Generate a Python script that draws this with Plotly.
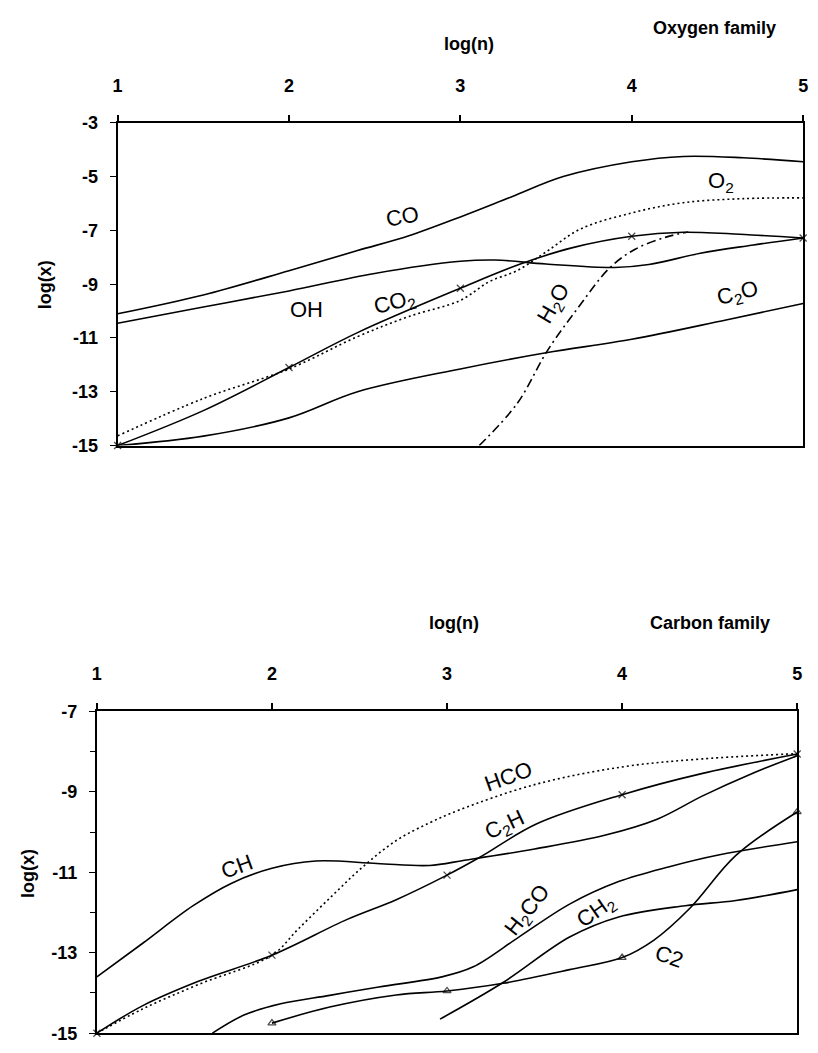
import plotly.graph_objects as go

# ---------------- Oxygen family (top panel) ----------------
CO_x = [1, 1.5, 2, 2.4, 2.7, 3, 3.3, 3.6, 4, 4.3, 4.65, 5]
CO_y = [-10.1, -9.4, -8.5, -7.75, -7.2, -6.5, -5.75, -5.0, -4.45, -4.25, -4.3, -4.45]

OH_x = [1, 1.5, 2, 2.5, 3, 3.2, 3.5, 3.9, 4.1, 4.4, 4.7, 5]
OH_y = [-10.45, -9.85, -9.25, -8.6, -8.15, -8.1, -8.25, -8.38, -8.27, -7.85, -7.55, -7.28]

CO2_x = [1, 1.5, 2, 2.4, 3, 3.35, 3.65, 4, 4.3, 4.7, 5]
CO2_y = [-15, -13.7, -12.1, -10.8, -9.15, -8.25, -7.65, -7.22, -7.07, -7.17, -7.28]

O2_x = [1, 1.5, 2, 2.4, 2.7, 3, 3.17, 3.33, 3.5, 3.7, 4, 4.3, 4.65, 5]
O2_y = [-14.64, -13.25, -12.15, -10.95, -10.2, -9.6, -8.9, -8.5, -7.8, -6.95, -6.35, -5.97, -5.82, -5.79]

H2O_x = [3.11, 3.33, 3.51, 3.69, 3.87, 4.02, 4.2, 4.33]
H2O_y = [-15, -13.45, -11.45, -9.85, -8.4, -7.7, -7.25, -7.06]

C2O_x = [1, 1.5, 2, 2.4, 3, 3.5, 4, 4.55, 5]
C2O_y = [-15, -14.65, -13.97, -13.0, -12.15, -11.55, -11.05, -10.33, -9.72]

# ---------------- Carbon family (bottom panel) ----------------
CH_x = [1, 1.26, 1.55, 1.77, 2.0, 2.25, 2.6, 2.9, 3.1, 3.5, 3.9, 4.2, 4.46, 4.74, 5]
CH_y = [-13.6, -12.77, -11.83, -11.27, -10.9, -10.72, -10.78, -10.83, -10.7, -10.42, -10.08, -9.68, -9.1, -8.55, -8.1]

C2H_x = [1, 1.26, 1.58, 2, 2.43, 2.71, 3, 3.19, 3.51, 4, 4.46, 5]
C2H_y = [-15, -14.32, -13.71, -13.06, -12.17, -11.68, -11.07, -10.62, -9.8, -9.07, -8.54, -8.06]

HCO_x = [1, 1.26, 1.58, 2, 2.15, 2.34, 2.52, 2.71, 2.9, 3.07, 3.5, 4, 4.46, 5]
HCO_y = [-15, -14.4, -13.79, -13.06, -12.41, -11.6, -10.86, -10.21, -9.77, -9.45, -8.82, -8.38, -8.18, -8.05]

H2CO_x = [1.66, 1.84, 2.05, 2.33, 2.61, 2.97, 3.15, 3.41, 3.7, 3.98, 4.27, 4.55, 5]
H2CO_y = [-15, -14.55, -14.27, -14.06, -13.85, -13.6, -13.35, -12.61, -11.79, -11.23, -10.86, -10.57, -10.24]

CH2_x = [2.96, 3.32, 3.7, 3.98, 4.36, 4.65, 5]
CH2_y = [-14.65, -13.74, -12.61, -12.11, -11.83, -11.7, -11.43]

C2_x = [2, 2.33, 2.71, 3, 3.32, 3.7, 4, 4.18, 4.39, 4.65, 5]
C2_y = [-14.75, -14.35, -14.05, -13.95, -13.76, -13.42, -13.12, -12.69, -11.88, -10.58, -9.5]

X_TICKS = [1, 2, 3, 4, 5]
TOP_Y_TICKS = [-3, -5, -7, -9, -11, -13, -15]
BOT_Y_TICKS = [-7, -9, -11, -13, -15]

TICK_FONT = dict(family="Liberation Sans Narrow, Liberation Sans, Arial", size=18, color="black", weight="bold")
LABEL_FONT = dict(family="Liberation Sans, Arial", size=22, color="black")
BOLD = dict(family="Liberation Sans Narrow, Liberation Sans, Arial", size=18, color="black", weight="bold")

fig = go.Figure()


def add_curve(xs, ys, xa, ya, dash="solid", marker=None):
    sizes = None
    if marker is not None:
        sizes = [7 if float(v).is_integer() else 0 for v in xs]
    fig.add_trace(go.Scatter(
        x=xs, y=ys, xaxis=xa, yaxis=ya,
        mode="lines+markers" if marker else "lines",
        line=dict(color="black", width=1.6, dash=dash, shape="spline", smoothing=1.0),
        marker=dict(symbol=marker, size=sizes, color="black",
                    line=dict(color="black", width=1.3)) if marker else None,
        cliponaxis=False, showlegend=False, hoverinfo="skip"))


# top
add_curve(CO_x, CO_y, "x", "y")
add_curve(OH_x, OH_y, "x", "y")
add_curve(CO2_x, CO2_y, "x", "y", marker="x-thin")
add_curve(O2_x, O2_y, "x", "y", dash="2px,3px")
add_curve(H2O_x, H2O_y, "x", "y", dash="9px,4px,2px,4px")
add_curve(C2O_x, C2O_y, "x", "y")
# bottom
add_curve(CH_x, CH_y, "x2", "y2")
add_curve(C2H_x, C2H_y, "x2", "y2", marker="x-thin")
add_curve(HCO_x, HCO_y, "x2", "y2", dash="2px,3px")
add_curve(H2CO_x, H2CO_y, "x2", "y2")
add_curve(CH2_x, CH2_y, "x2", "y2")
add_curve(C2_x, C2_y, "x2", "y2", marker="triangle-up-open")

W, H = 818, 1053


def px_x(p):
    return p / W


def px_y(p):
    return 1 - p / H


def tick_text(vals):
    return [str(v) for v in vals]  # plain hyphen-minus as in the original


xaxis_common = dict(range=[1, 5], side="top", tickvals=X_TICKS, ticktext=tick_text(X_TICKS),
                    ticks="outside", ticklen=6,
                    tickcolor="black", tickwidth=1.5, showline=True, linecolor="black",
                    linewidth=2, mirror=True, showgrid=False, zeroline=False,
                    tickfont=TICK_FONT, ticklabelstandoff=16, fixedrange=True)
yaxis_common = dict(ticks="outside", ticklen=6, tickcolor="black", tickwidth=1,
                    showline=True, linecolor="black", linewidth=2, mirror=True,
                    showgrid=False, zeroline=False, tickfont=TICK_FONT,
                    ticklabelstandoff=8, fixedrange=True)

fig.update_layout(
    width=W, height=H, margin=dict(l=0, r=0, t=0, b=0),
    paper_bgcolor="white", plot_bgcolor="white",
    xaxis=dict(**xaxis_common, domain=[px_x(114), px_x(808)], anchor="y"),
    yaxis=dict(**yaxis_common, range=[-15, -3], tickvals=TOP_Y_TICKS, ticktext=tick_text(TOP_Y_TICKS),
               domain=[px_y(444), px_y(115)], anchor="x"),
    xaxis2=dict(**xaxis_common, domain=[px_x(93), px_x(802)], anchor="y2"),
    yaxis2=dict(**yaxis_common, range=[-15, -7], tickvals=BOT_Y_TICKS, ticktext=tick_text(BOT_Y_TICKS),
                minor=dict(dtick=1, ticks="outside", ticklen=5, tickcolor="black"),
                domain=[px_y(1043), px_y(715)], anchor="x2"),
)

ann = []


def ptext(text, x, y, angle=0):
    ann.append(dict(text=text, x=px_x(x), y=px_y(y), xref="paper", yref="paper",
                    xanchor="center", yanchor="middle", showarrow=False, font=BOLD, textangle=angle))


ptext("log(n)", 470, 35)
ptext("Oxygen family", 718, 18)
ptext("log(x)", 40, 280, -90)
ptext("log(n)", 455, 625)
ptext("Carbon family", 714, 625)
ptext("log(x)", 24, 880, -90)


def lab(text, x, y, xa, ya, angle=0):
    ann.append(dict(text=text, x=x, y=y, xref=xa, yref=ya, xanchor="center", yanchor="middle",
                    showarrow=False, font=LABEL_FONT, textangle=angle))


# curve labels top
lab("CO", 2.66, -6.5, "x", "y", -10)
lab("OH", 2.1, -9.95, "x", "y")
lab("CO<sub>2</sub>", 2.62, -9.7, "x", "y", -15)
lab("O<sub>2</sub>", 4.52, -5.2, "x", "y")
lab("H<sub>2</sub>O", 3.55, -9.75, "x", "y", -60)
lab("C<sub>2</sub>O", 4.62, -9.35, "x", "y", -15)
# curve labels bottom
lab("CH", 1.8, -10.85, "x2", "y2", -20)
lab("HCO", 3.35, -8.62, "x2", "y2", -20)
lab("C<sub>2</sub>H", 3.33, -9.85, "x2", "y2", -25)
lab("H<sub>2</sub>CO", 3.46, -11.95, "x2", "y2", -52)
lab("CH<sub>2</sub>", 3.85, -11.98, "x2", "y2", -35)
lab("C2", 4.27, -13.1, "x2", "y2", 20)

fig.update_layout(annotations=ann)
fig.write_html("out.html")
